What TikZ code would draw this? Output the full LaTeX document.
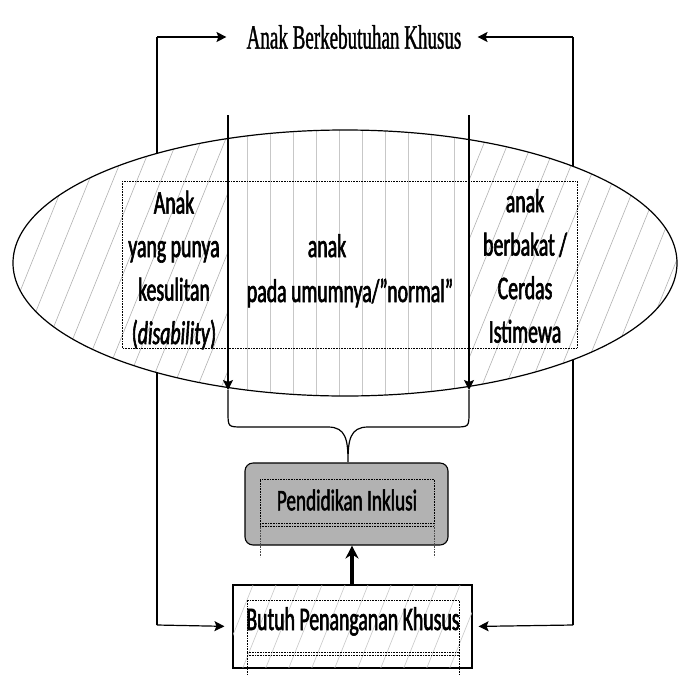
\documentclass[tikz,border=0pt]{standalone}
\usepackage{fontspec}
\setmainfont{Carlito}
\newfontfamily\cf[FakeStretch=0.6,FakeBold=1.8]{Carlito}
\newfontfamily\cfp[FakeStretch=0.64,FakeBold=1.6]{Carlito}
\newfontfamily\tf[FakeStretch=0.56,FakeBold=1.0]{Liberation Serif}
\usetikzlibrary{arrows.meta}
\tikzset{
  conn/.style={line width=1.2pt,-{Stealth[length=10pt,width=10pt,inset=2pt]}},
  hatch/.style={draw=black!30,line width=0.6pt},
  dotbox/.style={densely dotted,line width=0.6pt},
  ebox/.style={font=\cf\fontsize{33}{43.5}\selectfont,align=center,inner sep=0pt},
}
\begin{document}
\begin{tikzpicture}[x=1pt,y=-1pt]
\useasboundingbox (0,0) rectangle (679,675);
% nodes
\node[font=\tf\fontsize{34}{34}\selectfont,inner sep=0pt] (title) at (354,37) {Anak Berkebutuhan Khusus};
\coordinate (tl) at (157,37);
\coordinate (bl) at (157,625);
\coordinate (tr) at (573,37);
\coordinate (br) at (573,625);
% outer loop lines
\draw[conn,-] (bl) -- (tl);
\draw[conn,-] (br) -- (tr);
\draw[conn,shorten >=20pt] (tl) -- (title.west);
\draw[conn,shorten >=16pt] (tr) -- (title.east);
% ellipse
\path[fill=white] (345,263) ellipse [x radius=332, y radius=133];
\begin{scope}
  \clip (345,263) ellipse [x radius=332, y radius=133];
  \begin{scope}
    \clip (0,0) rectangle (228,675);
    \foreach \i in {-200,-176,...,300} \draw[hatch] (\i,420) -- ++(170,-420);
  \end{scope}
  \begin{scope}
    \clip (469,0) rectangle (679,675);
    \foreach \i in {300,324,...,720} \draw[hatch] (\i,420) -- ++(170,-420);
  \end{scope}
  \foreach \x in {247,270,...,460} \draw[hatch,draw=black!22] (\x,100) -- (\x,420);
\end{scope}
\draw[line width=1.2pt] (345,263) ellipse [x radius=332, y radius=133];
\draw[dotbox] (122,181) rectangle (577,348);
% texts in ellipse
\node[ebox] (dis) at (174,270) {Anak\\yang punya\\kesulitan\\(\textit{disability})};
\node[ebox,anchor=base] (nor1) at (327,257) {anak};
\node[ebox,anchor=base] (nor2) at (350,302) {pada umumnya/”normal”};
\node[ebox] (gif) at (525,266) {anak\\berbakat /\\Cerdas\\Istimewa};
% vertical arrows
\coordinate (la) at (228,115);
\coordinate (lb) at (228,390);
\coordinate (ra) at (469,115);
\coordinate (rb) at (469,390);
\draw[conn] (la) -- (lb);
\draw[conn] (ra) -- (rb);
% brace
\coordinate (tip) at (348,462);
\draw[line width=1.2pt] (lb) -- (228,412) .. controls (228,427) .. (243,427) -- (328,427)
  .. controls (346,427) and (348,440) .. (tip)
  .. controls (348,440) and (350,427) .. (368,427) -- (454,427)
  .. controls (469,427) .. (469,412) -- (rb);
% Pendidikan Inklusi
\node[draw,line width=1.1pt,rounded corners=8pt,fill=black!30,minimum width=203pt,minimum height=82pt,inner sep=0pt] (pi) at (346.5,504) {};
\draw[dotbox] (260,525) -- (260,479) -- (434,479) -- (434,525);
\draw[dotbox] (260,523) -- (434,523);
\draw[dotbox] (260,526) -- (434,526);
\draw[dotbox,black!70] (260,525) -- (260,557);
\draw[dotbox,black!70] (434,525) -- (434,557);
\node[font=\cfp\fontsize{30}{30}\selectfont,inner sep=0pt] (pit) at (347,500) {Pendidikan Inklusi};
% Butuh Penanganan Khusus
\node[draw,line width=1.1pt,minimum width=239pt,minimum height=83pt,inner sep=0pt] (bp) at (352.5,626.5) {};
\begin{scope}
  \clip (bp.south west) rectangle (bp.north east);
  \foreach \i in {100,123,...,520} \draw[hatch,draw=black!22] (\i,680) -- ++(40,-100);
\end{scope}
\draw[line width=1.1pt] (bp.south west) rectangle (bp.north east);
\draw[dotbox] (247,653) -- (247,600) -- (459,600) -- (459,653);
\draw[dotbox] (247,652) -- (459,652);
\draw[dotbox] (247,655) -- (459,655);
\draw[dotbox] (247,653) -- (247,675);
\draw[dotbox] (459,653) -- (459,675);
\node[font=\cf\fontsize{33}{33}\selectfont,inner sep=0pt,anchor=base] (bpt) at (353,630) {Butuh Penanganan Khusus};
% connectors to Butuh
\draw[conn,shorten >=8pt] (bl) -- (bp.west);
\draw[conn,shorten >=6pt] (br) -- (bp.east);
% thick arrow up
\draw[line width=3.6pt,-{Stealth[length=13pt,width=13pt]}] (bp.north -| 352,0) -- (pi.south -| 352,0);
\end{tikzpicture}
\end{document}
